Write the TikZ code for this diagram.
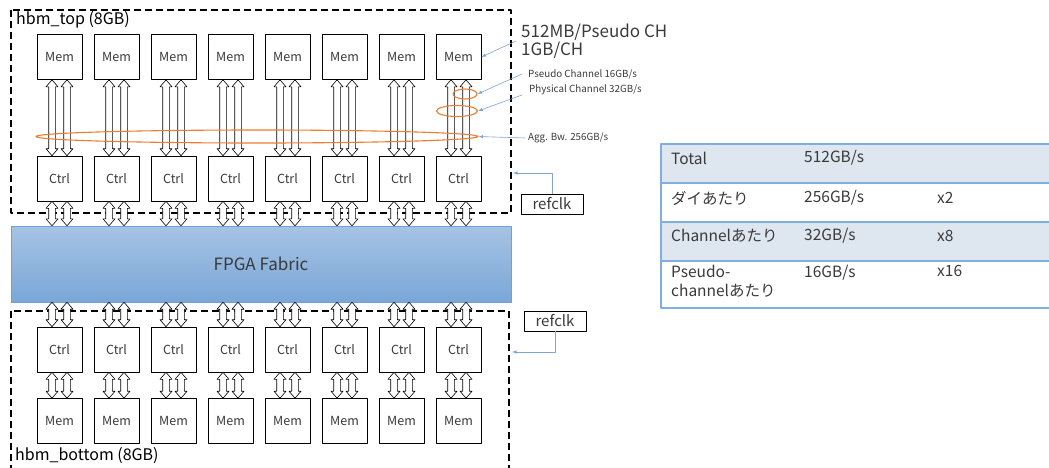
\documentclass[tikz,border=0pt]{standalone}
\usepackage{fontspec}
\setmainfont{Noto Sans CJK JP}
\usetikzlibrary{arrows,calc,shapes.geometric}
\definecolor{ringorange}{HTML}{ED7D31}
\definecolor{noteblue}{HTML}{7FA3D6}
\definecolor{tblline}{HTML}{7FAEDF}
\definecolor{tblfill}{HTML}{DEE6F0}
\definecolor{fpgatop}{HTML}{A6C3E3}
\definecolor{fpgabot}{HTML}{7AA7D8}
\definecolor{fpgaedge}{HTML}{6FA0D8}
\definecolor{txtgray}{HTML}{3A3A3A}

% two overlapping block arrows between an upper and a lower node
\newcommand{\blkpair}[3]{%
  \foreach \o in {-7.5,7.5}{
    \path (#1.center |- #2.south) ++(\o,0) coordinate (ua);
    \path (ua |- #3.north) coordinate (lb);
    \draw[blk] (ua) -- ++(6,7) -- ++(-2.7,0) -- ($(lb)+(3.3,-7)$) -- ++(2.7,0) -- (lb)
      -- ++(-6,-7) -- ++(2.7,0) -- ($(ua)+(-3.3,7)$) -- ++(-2.7,0) -- cycle;
  }}

\begin{document}
\begin{tikzpicture}[x=1pt,y=-1pt,line cap=round,line join=round,
    box/.style={draw,fill=white,line width=0.6pt,minimum width=45pt,minimum height=45pt,
      inner sep=0pt,text=txtgray,font=\fontsize{12.5}{14}\selectfont},
    blk/.style={draw,fill=white,line width=0.6pt},
    hbmbox/.style={draw,line width=2pt,line cap=butt,dash pattern=on 7pt off 4pt},
    ring/.style={draw=ringorange,line width=1.1pt,ellipse,inner sep=0pt},
    note/.style={draw=noteblue,line width=0.6pt,->,>=latex},
    small/.style={anchor=west,inner sep=0pt,text=txtgray,font=\fontsize{9.8}{11}\selectfont},
    clkbox/.style={draw,line width=0.6pt,minimum width=62pt,minimum height=20pt,inner sep=0pt,
      text=txtgray,font=\fontsize{15}{17}\selectfont},
    tbl/.style={draw=tblline,line width=1.5pt,line cap=butt},
    cell/.style={anchor=west,inner sep=0pt,text=txtgray,font=\fontsize{15.5}{19}\selectfont,align=left}]
        \clip (0,0) rectangle (1049,467);
        \draw[hbmbox] (11,10) rectangle (511,213);
        \draw[hbmbox] (11,311) rectangle (509,500);
        \node[anchor=west,inner sep=0pt,font=\fontsize{16}{18}\selectfont] (toplbl) at (16,20) {hbm\_top (8GB)};
        \node[anchor=west,inner sep=0pt,font=\fontsize{16}{18}\selectfont] (botlbl) at (15,456) {hbm\_bottom (8GB)};
        \node[draw=fpgaedge,top color=fpgatop,bottom color=fpgabot,minimum width=500pt,minimum height=76pt,
          text=txtgray,font=\fontsize{17}{19}\selectfont] (fpga) at (261,264) {FPGA Fabric};
        \foreach \i in {1,...,8}{
            \pgfmathsetmacro{\cx}{59.5+57*(\i-1)}
            \node[box] (mt\i) at (\cx,57) {Mem};
            \node[box] (ct\i) at (\cx,178.5) {Ctrl};
            \node[box] (cb\i) at (\cx,349.5) {Ctrl};
            \node[box] (mb\i) at (\cx,421) {Mem};
            \blkpair{mt\i}{mt\i}{ct\i}
            \blkpair{ct\i}{ct\i}{fpga}
            \blkpair{cb\i}{fpga}{cb\i}
            \blkpair{mb\i}{cb\i}{mb\i}
        }
        \node[ring,minimum width=442pt,minimum height=13pt] (agg) at (257,136.5) {};
        \node[ring,minimum width=24pt,minimum height=10pt] (pch) at (465,94) {};
        \node[ring,minimum width=41pt,minimum height=11pt] (phy) at (457,111) {};
        \node[anchor=west,inner sep=0pt,align=left,text=txtgray,font=\fontsize{17}{18}\selectfont] (cap) at (521,41) {512MB/Pseudo CH\\1GB/CH};
        \node[small] (pcnote) at (528,74) {Pseudo Channel 16GB/s};
        \node[small] (phnote) at (529,90) {Physical Channel 32GB/s};
        \node[small] (aggnote) at (528,138) {Agg. Bw. 256GB/s};
        \draw[note] ([xshift=-5pt]cap.west) -- (mt8.east);
        \draw[note] ([xshift=-6pt]pcnote.west) -- (pch.east);
        \draw[note] ([xshift=-7pt,yshift=-5pt]phnote.west) -- (phy.east);
        \draw[note] ([xshift=-3pt]aggnote.west) -- (agg.east);
        \node[clkbox] (rck1) at (552,204) {refclk};
        \node[clkbox] (rck2) at (555,321) {refclk};
        \coordinate (clkin1) at (513,173);
        \coordinate (clkin2) at (512,352);
        \draw[note] (rck1.north) |- (clkin1);
        \draw[note] (rck2.south) |- (clkin2);
        \fill[tblfill] (661,144) rectangle (1060,183);
        \fill[tblfill] (661,222) rectangle (1060,261);
        \draw[tbl] (1060,144) -- (661,144) -- (661,308) -- (1060,308);
        \draw[tbl] (661,183) -- (1060,183);
        \draw[tbl] (661,222) -- (1060,222);
        \draw[tbl] (661,261) -- (1060,261);
        \node[cell] (r1a) at (671,158) {Total};
        \node[cell] (r1b) at (804,158) {512GB/s};
        \node[cell] (r2a) at (671,198) {ダイあたり};
        \node[cell] (r2b) at (804,198) {256GB/s};
        \node[cell] (r2c) at (937,198) {x2};
        \node[cell] (r3a) at (671,236) {Channelあたり};
        \node[cell] (r3b) at (804,236) {32GB/s};
        \node[cell] (r3c) at (937,236) {x8};
        \node[cell,anchor=north west] (r4a) at (671,265) {Pseudo-\\channelあたり};
        \node[cell,anchor=north west] (r4b) at (804,265) {16GB/s};
        \node[cell,anchor=north west] (r4c) at (937,265) {x16};
\end{tikzpicture}
\end{document}
